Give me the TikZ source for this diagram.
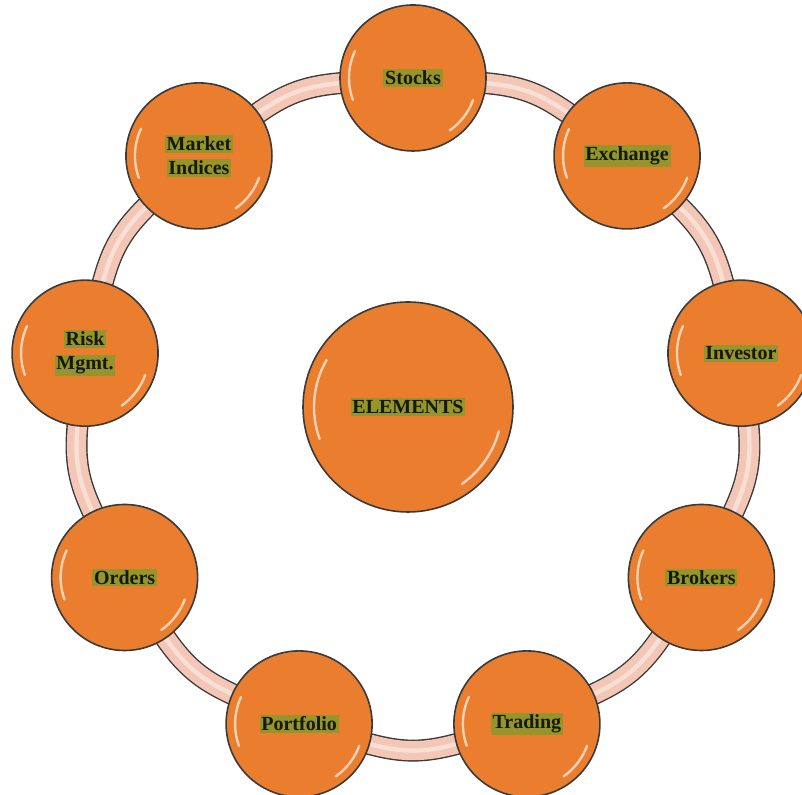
\documentclass[tikz,border=0pt]{standalone}
\usepackage{fontspec}
\setmainfont{Liberation Serif}
\usetikzlibrary{backgrounds}
\definecolor{ballfill}{RGB}{234,126,46}
\definecolor{ballline}{RGB}{58,58,58}
\definecolor{ringfill}{RGB}{243,198,182}
\definecolor{glow}{RGB}{150,148,42}
\definecolor{ink}{RGB}{18,26,10}
\newcommand{\glow}[1]{{\setlength{\fboxsep}{0.9pt}\colorbox{glow}{\color{ink}#1}}}
\tikzset{
 ball/.style={circle,draw=ballline,line width=0.8pt,fill=ballfill,minimum size=73pt,inner sep=0pt,align=center,font=\bfseries},
 bigball/.style={ball,minimum size=105pt},
 band/.style={draw=ballline,line width=0.7pt,double=ringfill,double distance=9.6pt,shorten <=-4pt,shorten >=-4pt},
 bandshine/.style={white,opacity=0.45,line width=2.2pt,shorten <=-4pt,shorten >=-4pt},
 shine/.style={white,line width=1.2pt,opacity=0.65,line cap=round}
}
\begin{document}
\begin{tikzpicture}[x=0.5pt,y=0.5pt]
\useasboundingbox (0,0) rectangle (802,795);
\coordinate (hub) at (413,384);

% the nine elements round the ring
\foreach \a/\n/\t in {90/stocks/{\glow{Stocks}},50/exchange/{\glow{Exchange}},10/investor/{\glow{Investor}},
 -30/brokers/{\glow{Brokers}},-70/trading/{\glow{Trading}},-110/portfolio/{\glow{Portfolio}},
 -150/orders/{\glow{Orders}},170/risk/{\glow{Risk}\\\glow{Mgmt.}},130/market/{\glow{Market}\\\glow{Indices}}} {
\node[ball] (\n) at ([shift={(\a:333)}]hub) {\t};
\draw[shine] ([shift={(155:32pt)}]\n.center) arc[start angle=155,end angle=200,radius=32pt];
\draw[shine] ([shift={(-20:32pt)}]\n.center) arc[start angle=-20,end angle=-55,radius=32pt];}

\node[bigball] (elements) at (408,388) {\glow{ELEMENTS}};
\draw[shine] ([shift={(150:47pt)}]elements.center) arc[start angle=150,end angle=200,radius=47pt];
\draw[shine] ([shift={(-15:47pt)}]elements.center) arc[start angle=-15,end angle=-55,radius=47pt];

% the ring, drawn behind the balls
\begin{pgfonlayer}{background}
\fill[white] (0,0) rectangle (802,795);
\foreach \p/\q in {stocks/exchange,exchange/investor,investor/brokers,brokers/trading,trading/portfolio,
 portfolio/orders,orders/risk,risk/market,market/stocks} {
\draw[band] (\p) to[bend left=16] (\q);
\draw[bandshine] (\p) to[bend left=16] (\q);}
\end{pgfonlayer}

\end{tikzpicture}
\end{document}
